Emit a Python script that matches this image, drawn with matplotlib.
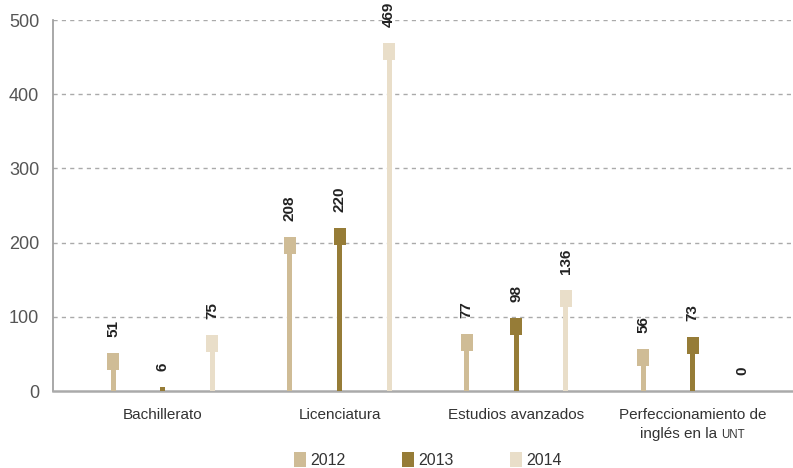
import matplotlib
matplotlib.use("Agg")
import matplotlib.pyplot as plt
import numpy as np
from matplotlib.patches import Patch

categories = ["Bachillerato", "Licenciatura", "Estudios avanzados",
              "Perfeccionamiento de\ninglés en la UNT"]
years = ["2012", "2013", "2014"]
v2012 = [51, 208, 77, 56]
v2013 = [6, 220, 98, 73]
v2014 = [75, 469, 136, 0]
yticks = [0, 100, 200, 300, 400, 500]

colors = ["#cfbc96", "#967c37", "#e9dec9"]
series = [v2012, v2013, v2014]
FONT = "Liberation Sans"

W, H = 793, 468
fig = plt.figure(figsize=(W / 100, H / 100), dpi=100)
ax = fig.add_axes([53 / W, 77 / H, (W - 53) / W, (391 - 20) / H])

xlim = (-0.623, 3.569)
ax.set_xlim(*xlim)
ax.set_ylim(0, 500)
px_per_unit_x = (W - 53) / (xlim[1] - xlim[0])
px_per_unit_y = (391 - 20) / 500

stem_w = 5 / px_per_unit_x
mark_w = 12 / px_per_unit_x
mark_h = 17 / px_per_unit_y
offsets = [-0.2805, 0.0, 0.2805]

x = np.arange(len(categories))
for vals, col, off in zip(series, colors, offsets):
    xs = x + off
    ax.bar(xs, vals, width=stem_w, color=col, zorder=3, linewidth=0)
    for xi, v in zip(xs, vals):
        if v > mark_h:
            ax.bar(xi, mark_h, bottom=v - mark_h, width=mark_w, color=col,
                   zorder=4, linewidth=0)
        ax.annotate(str(v), (xi, v), xytext=(0, 11.5), textcoords="offset points",
                    rotation=90, ha="center", va="bottom", fontsize=11,
                    fontweight="bold", color="#222222", family=FONT)

ax.set_yticks(yticks)
ax.set_yticklabels([str(t) for t in yticks], fontsize=13, color="#555555",
                   family=FONT)
ax.set_xticks(x)
ax.set_xticklabels([])
ax.tick_params(axis="both", length=0)
ax.tick_params(axis="y", pad=10)

# category labels (real text); last one has small-caps style "UNT"
lab_kw = dict(fontsize=11, color="#333333", family=FONT)
line1_off = -20.2   # points below axis (baseline)
line2_off = -33.8
for i, cat in enumerate(categories):
    lines = cat.split("\n")
    ax.annotate(lines[0], (x[i], 0), xycoords=("data", "axes fraction"),
                xytext=(0, line1_off), textcoords="offset points",
                ha="center", va="baseline", **lab_kw)
    if len(lines) > 1:
        main, abbr = lines[1].rsplit(" ", 1)
        renderer = fig.canvas.get_renderer()
        t1 = ax.annotate(main, (x[i], 0), xycoords=("data", "axes fraction"),
                         xytext=(0, line2_off), textcoords="offset points",
                         ha="left", va="baseline", **lab_kw)
        small_kw = dict(lab_kw)
        small_kw["fontsize"] = 8.3
        t2 = ax.annotate(abbr, (x[i], 0), xycoords=("data", "axes fraction"),
                         xytext=(0, line2_off), textcoords="offset points",
                         ha="left", va="baseline", **small_kw)
        w1 = t1.get_window_extent(renderer).width * 0.72
        w2 = t2.get_window_extent(renderer).width * 0.72
        gap = 11 * 0.278
        total = w1 + gap + w2
        t1.set_position((-total / 2, line2_off))
        t2.set_position((-total / 2 + w1 + gap, line2_off))

for yv in yticks[1:]:
    ax.axhline(yv, color="#aaaaaa", lw=1, ls=(0, (3, 3)), zorder=1)

for s in ["top", "right"]:
    ax.spines[s].set_visible(False)
ax.spines["left"].set_color("#999999")
ax.spines["left"].set_linewidth(1.2)
ax.spines["bottom"].set_color("#aaaaaa")
ax.spines["bottom"].set_linewidth(1.8)

handles = [Patch(facecolor=c, edgecolor="none") for c in colors]
fig.legend(handles, years, loc="center", bbox_to_anchor=(428 / W, 1 - 460 / H),
           ncol=3, frameon=False, handlelength=0.75, handleheight=1.06,
           handletextpad=0.3, columnspacing=3.5, borderpad=0, borderaxespad=0,
           prop={"family": FONT, "size": 11.5},
           labelcolor="#333333")

fig.savefig("out.png", dpi=100)
